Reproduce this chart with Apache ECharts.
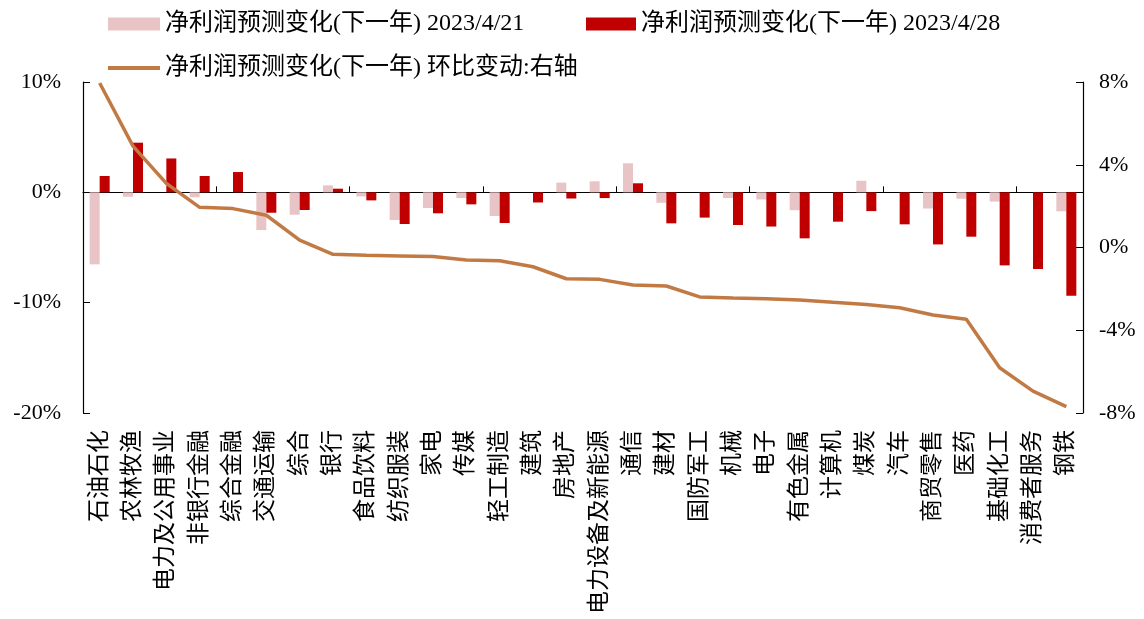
<!DOCTYPE html>
<html>
<head>
<meta charset="utf-8">
<script src="https://cdn.jsdelivr.net/npm/echarts@6/dist/echarts.min.js"></script>
<style>
  html, body { margin: 0; padding: 0; background: #fff; }
  #chart { width: 1144px; height: 619px; }
</style>
</head>
<body>
<div id="chart"></div>
<script>
// 行业分类
const categories = ['石油石化','农林牧渔','电力及公用事业','非银行金融','综合金融','交通运输','综合','银行','食品饮料','纺织服装',
  '家电','传媒','轻工制造','建筑','房地产','电力设备及新能源','通信','建材','国防军工','机械',
  '电子','有色金属','计算机','煤炭','汽车','商贸零售','医药','基础化工','消费者服务','钢铁'];

// 净利润预测变化(下一年), 单位 %
const forecast0421 = [-6.53, -0.4, 0, -0.45, 0, -3.42, -2.03, 0.63, -0.37, -2.51,
  -1.42, -0.52, -2.15, 0, 0.88, 1.0, 2.63, -0.95, 0, -0.52,
  -0.65, -1.62, 0, 1.05, 0, -1.47, -0.58, -0.84, 0, -1.72];
const forecast0428 = [1.48, 4.5, 3.07, 1.48, 1.84, -1.85, -1.6, 0.33, -0.73, -2.87,
  -1.9, -1.09, -2.78, -0.92, -0.56, -0.52, 0.82, -2.81, -2.29, -2.96,
  -3.1, -4.17, -2.66, -1.7, -2.9, -4.72, -4.02, -6.62, -6.95, -9.37];
// 环比变动 (右轴), 单位 %
const weeklyChange = [7.95, 4.9, 3.1, 1.94, 1.88, 1.56, 0.36, -0.33, -0.38, -0.41,
  -0.44, -0.6, -0.64, -0.93, -1.51, -1.54, -1.81, -1.86, -2.39, -2.44,
  -2.48, -2.54, -2.65, -2.75, -2.91, -3.26, -3.47, -5.81, -6.94, -7.69];

const seriesNames = ['净利润预测变化(下一年) 2023/4/21', '净利润预测变化(下一年) 2023/4/28', '净利润预测变化(下一年) 环比变动:右轴'];

const FONT = "'Liberation Serif', 'Noto Sans CJK SC', serif";
const PINK = '#E9C4C6';
const RED = '#C00000';
const BROWN = '#C27A45';

const chart = echarts.init(document.getElementById('chart'), null, { renderer: 'canvas' });

const legendText = { fontFamily: FONT, fontSize: 24, color: '#000' };

chart.setOption({
  animation: false,
  backgroundColor: '#fff',
  textStyle: { fontFamily: FONT },
  legend: [
    { data: [seriesNames[0]], left: 108, top: 12, padding: 0, itemWidth: 52, itemHeight: 13, icon: 'rect', textStyle: legendText },
    { data: [seriesNames[1]], left: 586, top: 12, padding: 0, itemWidth: 50, itemHeight: 13, icon: 'rect', textStyle: legendText },
    { data: [{ name: seriesNames[2], icon: 'rect', itemStyle: { color: BROWN } }], left: 108, top: 56, padding: 0, itemWidth: 52, itemHeight: 4, textStyle: legendText }
  ],
  grid: { left: 83, right: 61, top: 82, bottom: 206, containLabel: false },
  xAxis: [
    {
      type: 'category',
      data: categories,
      position: 'bottom',
      axisLine: { show: true, onZero: true, onZeroAxisIndex: 0, lineStyle: { color: '#000', width: 1.2 } },
      axisTick: { show: true, inside: true, length: 6, lineStyle: { color: '#000' } },
      axisLabel: { show: false },
      splitLine: { show: false }
    },
    {
      type: 'category',
      data: categories,
      position: 'bottom',
      axisLine: { show: false, onZero: false },
      axisTick: { show: false },
      axisLabel: { show: true, rotate: 90, interval: 0, margin: 17, fontSize: 23, color: '#000', fontFamily: FONT },
      splitLine: { show: false }
    }
  ],
  yAxis: [
    {
      type: 'value',
      min: -20, max: 10, interval: 10,
      position: 'left',
      axisLine: { show: true, lineStyle: { color: '#000', width: 1.2 } },
      axisTick: { show: true, inside: true, length: 7, lineStyle: { color: '#000' } },
      axisLabel: { formatter: '{value}%', fontSize: 22, color: '#000', margin: 22, fontFamily: FONT },
      splitLine: { show: false }
    },
    {
      type: 'value',
      min: -8, max: 8, interval: 4,
      position: 'right',
      axisLine: { show: true, lineStyle: { color: '#000', width: 1.2 } },
      axisTick: { show: true, inside: true, length: 7, lineStyle: { color: '#000' } },
      axisLabel: { formatter: '{value}%', fontSize: 22, color: '#000', margin: 16, fontFamily: FONT },
      splitLine: { show: false }
    }
  ],
  series: [
    {
      name: seriesNames[0], type: 'bar', xAxisIndex: 0, yAxisIndex: 0,
      data: forecast0421, barWidth: 10, barGap: '0%',
      itemStyle: { color: PINK }
    },
    {
      name: seriesNames[1], type: 'bar', xAxisIndex: 0, yAxisIndex: 0,
      data: forecast0428, barWidth: 10, barGap: '0%',
      itemStyle: { color: RED }
    },
    {
      name: seriesNames[2], type: 'line', xAxisIndex: 0, yAxisIndex: 1,
      data: weeklyChange, showSymbol: false, symbol: 'none',
      lineStyle: { color: BROWN, width: 3.5 },
      itemStyle: { color: BROWN },
      z: 5
    }
  ]
});
</script>
</body>
</html>
